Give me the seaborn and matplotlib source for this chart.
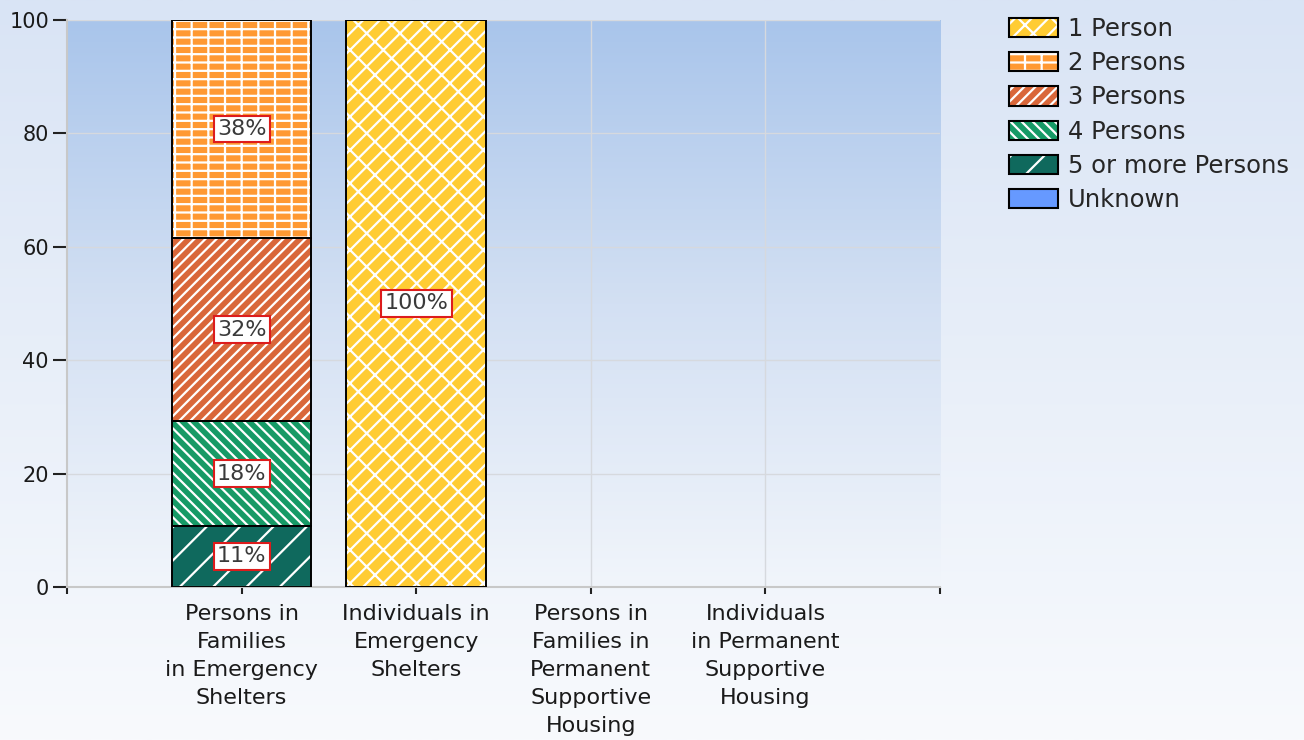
import numpy as np
import matplotlib.pyplot as plt
import matplotlib.patches as mpatches
from matplotlib.colors import LinearSegmentedColormap
import seaborn as sns

categories = [
    "Persons in\nFamilies\nin Emergency\nShelters",
    "Individuals in\nEmergency\nShelters",
    "Persons in\nFamilies in\nPermanent\nSupportive\nHousing",
    "Individuals\nin Permanent\nSupportive\nHousing",
]
size_groups = ["1 Person", "2 Persons", "3 Persons", "4 Persons", "5 or more Persons", "Unknown"]

# percent of each category, per household size
one_person = [0, 100, 0, 0]
two_persons = [38.4, 0, 0, 0]
three_persons = [32.4, 0, 0, 0]
four_persons = [18.4, 0, 0, 0]
five_plus = [10.8, 0, 0, 0]
unknown = [0, 0, 0, 0]

series = {
    "1 Person": one_person,
    "2 Persons": two_persons,
    "3 Persons": three_persons,
    "4 Persons": four_persons,
    "5 or more Persons": five_plus,
    "Unknown": unknown,
}
colors = {
    "1 Person": "#ffcc33",
    "2 Persons": "#ff9933",
    "3 Persons": "#d9673a",
    "4 Persons": "#169a66",
    "5 or more Persons": "#0f695d",
    "Unknown": "#6699ff",
}
hatches = {
    "1 Person": "//\\",
    "2 Persons": "--|",
    "3 Persons": "///",
    "4 Persons": "\\\\\\",
    "5 or more Persons": "/",
    "Unknown": "",
}
stack_order = ["5 or more Persons", "4 Persons", "3 Persons", "2 Persons", "1 Person", "Unknown"]

sns.set_style("ticks")
plt.rcParams["font.family"] = "DejaVu Sans"
plt.rcParams["hatch.linewidth"] = 1.6

fig = plt.figure(figsize=(13.04, 7.4), dpi=100)

#page background (soft blue fading to white)
grad = np.linspace(0, 1, 256).reshape(-1, 1)
bg = fig.add_axes([0, 0, 1, 1], zorder=-10)
bg.imshow(grad, aspect="auto", origin="upper", extent=(0, 1, 0, 1),
          cmap=LinearSegmentedColormap.from_list("page", ["#d9e4f5", "#f8fafd"]))
bg.axis("off")

ax = fig.add_axes([0.0514, 0.2068, 0.6695, 0.7662])
ax.imshow(grad, aspect="auto", origin="upper", extent=(-1, 4, 0, 100), zorder=0,
          cmap=LinearSegmentedColormap.from_list("plot", ["#a9c5eb", "#d3e0f3", "#f1f5fb"]))

#stacked bars: hatched fill (white hatch) + black outline on top
bottom = np.zeros(len(categories))
for name in stack_order:
    vals = np.array(series[name], dtype=float)
    sns.barplot(x=categories, y=vals, bottom=bottom, color=colors[name], saturation=1,
                width=0.8, hatch=hatches[name], edgecolor="white", linewidth=0,
                errorbar=None, ax=ax, zorder=2)
    fill_bars = ax.containers[-1]
    sns.barplot(x=categories, y=vals, bottom=bottom, fill=False, color="black", linewidth=1.4,
                width=0.8, errorbar=None, ax=ax, zorder=3)
    labels = [f"{round(v)}%" if v > 0 else "" for v in vals]
    ax.bar_label(fill_bars, labels=labels, label_type="center", fontsize=16, color="#3a3a3a",
                 zorder=5, bbox=dict(boxstyle="square,pad=0.15", facecolor="white",
                                     edgecolor="#dd1c1c", linewidth=1.5))
    bottom += vals

for p in ax.patches:
    if p.get_height() == 0:
        p.set_visible(False)

ax.set_xlim(-1, 4)
ax.set_ylim(0, 100)
ax.set_xlabel("")
ax.set_ylabel("")
ax.set_xticks(range(len(categories)))
ax.set_xticklabels(categories, fontsize=16, linespacing=1.5, color="#1a1a1a")
ax.set_xticks([-1, 4], minor=True)
ax.set_yticks(range(0, 101, 20))
ax.tick_params(axis="x", which="both", direction="out", length=5, width=1.5, color="#222222", pad=7)
ax.tick_params(axis="y", direction="out", length=10, width=1.5, color="#222222", pad=3,
               labelsize=15, labelcolor="#1a1a1a")
ax.set_axisbelow(True)
ax.grid(True, color="#d6d9de", linewidth=1)
for side in ["top", "right"]:
    ax.spines[side].set_visible(False)
for side in ["left", "bottom"]:
    ax.spines[side].set_color("#c8c8c8")
    ax.spines[side].set_linewidth(1.5)

#legend: hatched swatch with a black border
handles = []
for name in size_groups:
    face = mpatches.Patch(facecolor=colors[name], hatch=hatches[name], edgecolor="white", linewidth=0)
    edge = mpatches.Patch(fill=False, edgecolor="black", linewidth=1.5)
    handles.append((face, edge))
fig.legend(handles, size_groups, loc="upper left", bbox_to_anchor=(1009 / 1304, 1 - 17 / 740),
           frameon=False, fontsize=17.5, handlelength=2.0, handleheight=0.85, handletextpad=0.42,
           labelspacing=0.42, borderpad=0, borderaxespad=0)

plt.savefig("out.png", dpi=100)
